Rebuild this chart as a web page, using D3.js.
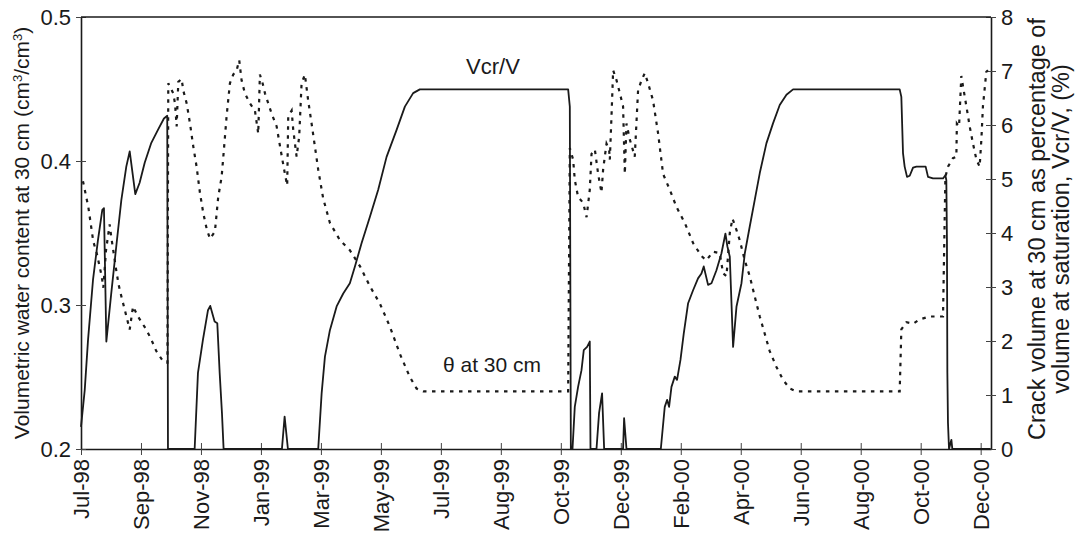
<!DOCTYPE html>
<html>
<head>
<meta charset="utf-8">
<script src="https://cdn.jsdelivr.net/npm/d3@7"></script>
<style>
    body { margin: 0; background: #fff; }
    text { font-family: "Liberation Sans", Arial, sans-serif; fill: #1a1a1a; }
</style>
</head>
<body>
<div id="chart"></div>
<script>
// x values are days after the first tick (Jul-98), ticks are every 58 days
let xTickLabels = ['Jul-98', 'Sep-98', 'Nov-98', 'Jan-99', 'Mar-99', 'May-99', 'Jul-99', 'Aug-99',
    'Oct-99', 'Dec-99', 'Feb-00', 'Apr-00', 'Jun-00', 'Aug-00', 'Oct-00', 'Dec-00'];
let tickStepDays = 58;
let lastDay = 880;

let thetaTicks = [0.2, 0.3, 0.4, 0.5];
let crackTicks = [0, 1, 2, 3, 4, 5, 6, 7, 8];

// Vcr/V (%), right axis  [day, value]
let crackData = [
    [0, 0.41], [3.6, 1.09], [6.8, 2.02], [11.6, 3.13], [16.4, 3.87], [20.6, 4.43], [22.2, 4.46],
    [24.5, 1.99], [29.3, 2.89], [34.1, 3.75], [39.0, 4.61], [43.8, 5.23], [47.1, 5.51], [52.5, 4.72],
    [56.7, 4.93], [61.6, 5.30], [68.0, 5.67], [74.4, 5.91], [80.2, 6.12], [83.4, 6.17], [84.1, 0],
    [109.9, 0], [113.1, 1.41], [117.9, 2.02], [122.8, 2.57], [125.0, 2.65], [129.2, 2.36], [131.8, 2.33],
    [134.1, 1.41], [136.3, 0.67], [137.9, 0], [194.3, 0], [196.9, 0.60], [200.1, 0], [229.4, 0],
    [232.7, 1.03], [235.9, 1.71], [240.7, 2.20], [247.2, 2.64], [253.6, 2.88], [260.0, 3.07], [264.9, 3.38],
    [271.3, 3.81], [279.4, 4.30], [287.4, 4.80], [295.5, 5.41], [305.2, 5.91], [313.2, 6.34], [321.2, 6.59],
    [327.7, 6.66], [471.1, 6.66], [472.7, 6.34], [473.7, 0], [475.3, 0], [477.5, 0.78], [480.7, 1.15],
    [484.0, 1.46], [486.2, 1.83], [489.4, 1.89], [492.0, 1.99], [492.7, 0], [498.5, 0], [501.0, 0.67],
    [503.9, 1.03], [505.9, 0], [524.2, 0], [525.2, 0.57], [527.5, 0], [560.7, 0], [564.5, 0.78],
    [566.8, 0.91], [568.7, 0.78], [571.0, 1.15], [574.2, 1.34], [576.4, 1.28], [579.7, 1.65], [582.9, 2.14],
    [587.1, 2.70], [591.9, 2.94], [596.7, 3.16], [600.0, 3.25], [602.2, 3.38], [606.4, 3.04], [609.7, 3.07],
    [614.5, 3.31], [619.3, 3.62], [623.2, 3.99], [625.1, 3.75], [627.4, 3.56], [630.6, 1.89], [633.9, 2.64],
    [638.7, 3.07], [641.9, 3.62], [646.7, 4.12], [651.5, 4.61], [656.4, 5.11], [662.8, 5.66], [669.2, 6.03],
    [675.7, 6.37], [682.2, 6.56], [688.6, 6.66], [791.7, 6.66], [793.3, 6.52], [794.9, 5.48], [796.5, 5.23],
    [798.8, 5.04], [801.4, 5.06], [804.6, 5.21], [807.9, 5.23], [816.8, 5.23], [819.1, 5.04], [823.9, 5.01],
    [833.6, 5.01], [835.9, 5.07], [836.8, 4.98], [837.4, 3.87], [837.8, 1.41], [838.4, 0.48], [839.4, 0],
    [841.7, 0.17], [842.6, 0], [879.7, 0]
];

// theta at 30 cm (cm3/cm3), left axis  [day, value]
let thetaData = [
    [1.9, 0.386], [7.1, 0.368], [11.9, 0.344], [15.2, 0.336], [20.0, 0.320], [21.6, 0.312], [24.2, 0.338],
    [27.7, 0.356], [29.3, 0.347], [34.1, 0.324], [36.4, 0.314], [39.0, 0.306], [42.2, 0.297], [47.1, 0.283],
    [50.3, 0.299], [55.1, 0.292], [63.1, 0.283], [68.0, 0.276], [72.8, 0.268], [79.3, 0.261], [81.5, 0.260],
    [83.6, 0.260], [84.4, 0.454], [89.2, 0.447], [90.9, 0.440], [92.5, 0.424], [94.1, 0.455], [97.3, 0.457],
    [98.9, 0.449], [102.2, 0.440], [105.4, 0.426], [108.6, 0.410], [111.8, 0.396], [115.0, 0.378], [118.2, 0.364],
    [121.5, 0.353], [124.7, 0.346], [129.5, 0.351], [132.7, 0.375], [136.0, 0.389], [138.2, 0.408], [140.8, 0.431],
    [144.0, 0.454], [147.2, 0.460], [150.5, 0.463], [153.0, 0.470], [155.3, 0.456], [158.5, 0.447], [163.4, 0.440],
    [168.2, 0.435], [171.4, 0.419], [173.0, 0.460], [175.6, 0.454], [177.9, 0.447], [181.1, 0.440], [184.3, 0.433],
    [189.2, 0.424], [193.0, 0.408], [197.2, 0.391], [199.4, 0.383], [200.4, 0.431], [203.7, 0.435], [205.2, 0.422],
    [208.5, 0.403], [211.0, 0.417], [213.3, 0.454], [216.5, 0.460], [219.7, 0.442], [223.0, 0.426], [226.2, 0.410],
    [229.4, 0.394], [234.2, 0.374], [240.7, 0.357], [250.4, 0.345], [260.0, 0.338], [269.7, 0.327], [279.4, 0.313],
    [289.0, 0.301], [298.7, 0.285], [308.4, 0.266], [318.0, 0.250], [324.5, 0.242], [330.9, 0.240], [471.1, 0.240],
    [472.7, 0.409], [475.9, 0.401], [477.5, 0.387], [480.7, 0.375], [485.6, 0.371], [488.9, 0.361], [492.0, 0.380],
    [493.7, 0.405], [496.9, 0.408], [500.1, 0.391], [503.3, 0.378], [504.9, 0.394], [508.2, 0.412], [510.7, 0.408],
    [511.4, 0.401], [513.0, 0.431], [514.6, 0.463], [517.9, 0.456], [521.1, 0.447], [524.2, 0.438], [525.9, 0.391],
    [527.5, 0.426], [530.7, 0.415], [535.5, 0.403], [538.7, 0.449], [542.0, 0.456], [545.2, 0.461], [548.4, 0.454],
    [553.2, 0.442], [558.1, 0.419], [562.9, 0.391], [569.4, 0.380], [575.9, 0.368], [583.9, 0.357], [591.9, 0.343],
    [600.0, 0.334], [604.8, 0.331], [611.2, 0.337], [617.7, 0.336], [620.9, 0.322], [624.2, 0.320], [627.4, 0.350],
    [630.0, 0.360], [633.9, 0.352], [637.0, 0.345], [641.9, 0.331], [646.7, 0.320], [651.5, 0.306], [656.4, 0.292],
    [661.2, 0.280], [666.0, 0.268], [672.5, 0.257], [678.9, 0.248], [685.4, 0.242], [691.8, 0.240], [791.7, 0.240],
    [793.3, 0.283], [798.2, 0.288], [804.6, 0.287], [811.1, 0.290], [820.7, 0.292], [833.6, 0.292], [835.9, 0.389],
    [838.4, 0.396], [843.2, 0.402], [846.5, 0.403], [847.0, 0.426], [849.1, 0.424], [851.3, 0.459], [852.9, 0.452],
    [856.2, 0.438], [859.4, 0.424], [862.6, 0.412], [865.9, 0.401], [869.0, 0.396], [870.7, 0.415], [872.2, 0.438],
    [875.5, 0.462], [877.1, 0.463]
];

let margin = { top: 17, right: 90, bottom: 89, left: 81 };
let width = 1081 - margin.left - margin.right;
let height = 538 - margin.top - margin.bottom;

let svg = d3.select('#chart')
    .append('svg')
    .attr('width', 1081)
    .attr('height', 538);

let g = svg.append('g')
    .attr('transform', `translate(${margin.left},${margin.top})`);

let x = d3.scaleLinear().domain([0, lastDay]).range([0, width]);
let yLeft = d3.scaleLinear().domain([0.2, 0.5]).range([height, 0]);
let yRight = d3.scaleLinear().domain([0, 8]).range([height, 0]);

let xTicks = xTickLabels.map((d, i) => i * tickStepDays);

// axes, ticks cross the axis line
let xAxis = g.append('g')
    .attr('transform', `translate(0,${height})`)
    .call(d3.axisBottom(x).tickValues(xTicks).tickFormat((d, i) => xTickLabels[i]).tickSize(6).tickSizeOuter(0));
xAxis.selectAll('.tick line').attr('y1', -6).attr('y2', 6);
xAxis.selectAll('.tick text')
    .attr('transform', 'rotate(-90)')
    .attr('x', -10)
    .attr('y', 0)
    .attr('dy', '0.35em')
    .style('text-anchor', 'end');

let leftAxis = g.append('g')
    .call(d3.axisLeft(yLeft).tickValues(thetaTicks).tickFormat(d3.format('.1f')).tickSize(5).tickPadding(5).tickSizeOuter(0));
leftAxis.selectAll('.tick line').attr('x1', 5);

let rightAxis = g.append('g')
    .attr('transform', `translate(${width},0)`)
    .call(d3.axisRight(yRight).tickValues(crackTicks).tickSize(5).tickPadding(5).tickSizeOuter(0));
rightAxis.selectAll('.tick line').attr('x1', -5);

g.selectAll('.tick text').style('font-size', '22px').style('font-family', '"Liberation Sans", Arial, sans-serif').attr('fill', '#1a1a1a');
g.selectAll('.domain').attr('stroke', '#1a1a1a').attr('stroke-width', 1.6);
g.selectAll('.tick line').attr('stroke', '#444').attr('stroke-width', 1);

// top border
g.append('line')
    .attr('x1', 0).attr('x2', width)
    .attr('y1', 0).attr('y2', 0)
    .attr('stroke', '#1a1a1a')
    .attr('stroke-width', 1.6);

// series
let crackLine = d3.line()
    .x(d => x(d[0]))
    .y(d => yRight(d[1]));

let thetaLine = d3.line()
    .x(d => x(d[0]))
    .y(d => yLeft(d[1]));

g.append('path')
    .datum(thetaData)
    .attr('d', thetaLine)
    .attr('fill', 'none')
    .attr('stroke', '#1a1a1a')
    .attr('stroke-width', 2.2)
    .attr('stroke-dasharray', '3.5,5.5');

g.append('path')
    .datum(crackData)
    .attr('d', crackLine)
    .attr('fill', 'none')
    .attr('stroke', '#1a1a1a')
    .attr('stroke-width', 1.8)
    .attr('stroke-linejoin', 'round');

// annotations
svg.append('text')
    .attr('x', 493).attr('y', 74)
    .attr('text-anchor', 'middle')
    .style('font-size', '22px')
    .text('Vcr/V');

svg.append('text')
    .attr('x', 492).attr('y', 372)
    .attr('text-anchor', 'middle')
    .style('font-size', '21px')
    .text('θ at 30 cm');

// axis titles
let leftTitle = svg.append('text')
    .attr('transform', `translate(22,${margin.top + height / 2}) rotate(-90)`)
    .attr('text-anchor', 'middle')
    .attr('dy', '0.35em')
    .style('font-size', '21px');
leftTitle.append('tspan').text('Volumetric water content at 30 cm  (cm');
leftTitle.append('tspan').attr('baseline-shift', 'super').style('font-size', '13px').text('3');
leftTitle.append('tspan').text('/cm');
leftTitle.append('tspan').attr('baseline-shift', 'super').style('font-size', '13px').text('3');
leftTitle.append('tspan').text(')');

let rightTitles = ['Crack volume at 30 cm as percentage of', 'volume at saturation, Vcr/V, (%)'];
svg.selectAll('.right-title')
    .data(rightTitles)
    .join('text')
    .attr('class', 'right-title')
    .attr('transform', (d, i) => `translate(${1037 + i * 24},${margin.top + height / 2 - 4}) rotate(-90)`)
    .attr('text-anchor', 'middle')
    .attr('dy', '0.35em')
    .style('font-size', '23.5px')
    .text(d => d);
</script>
</body>
</html>
